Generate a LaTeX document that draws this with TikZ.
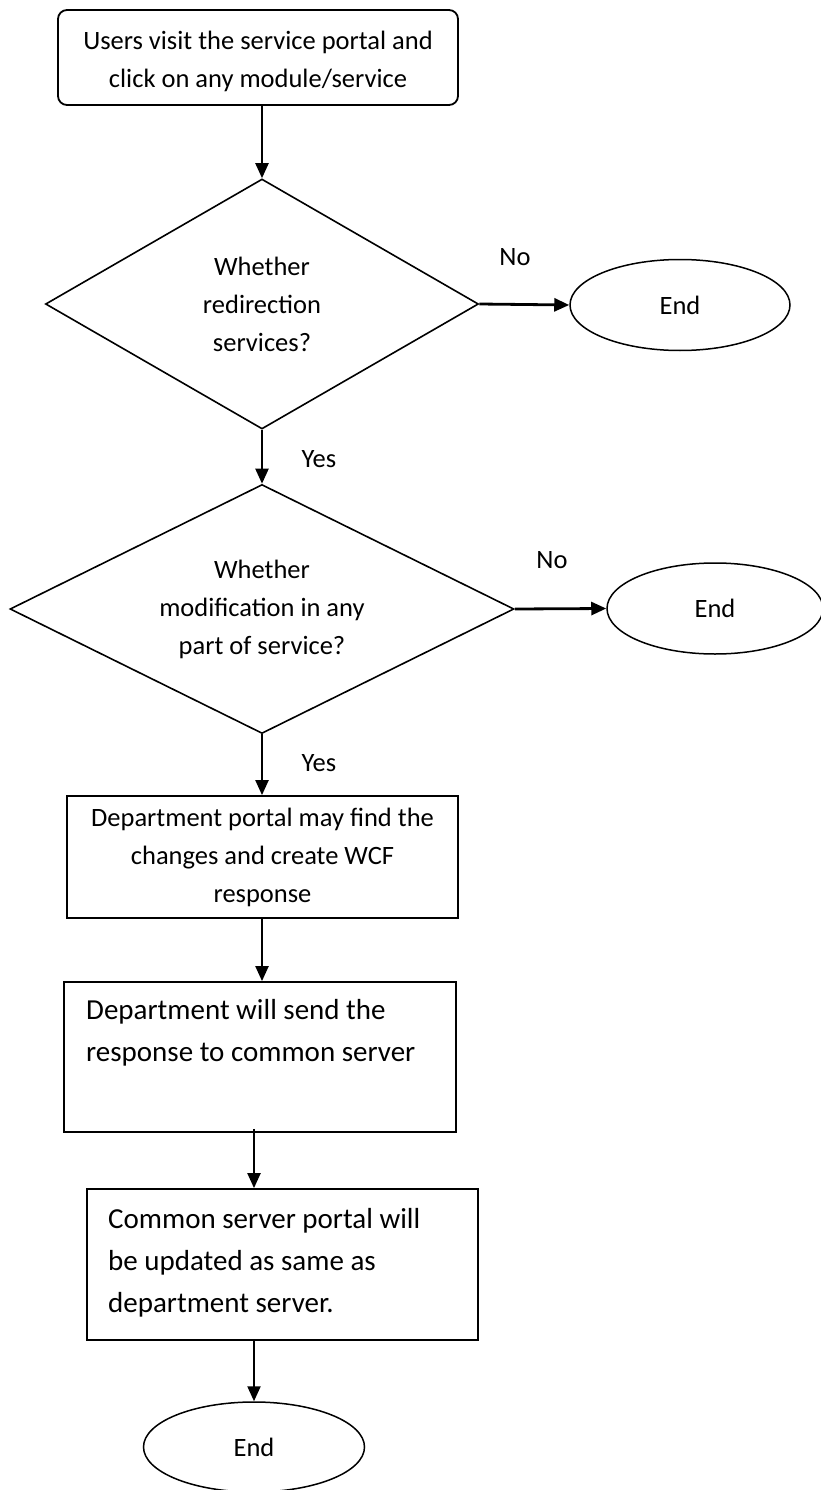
\documentclass[tikz,border=0pt]{standalone}
\usepackage{fontspec}
\setmainfont{Carlito}
\usetikzlibrary{shapes.geometric,arrows.meta,calc}

\begin{document}
\begin{tikzpicture}[x=1pt,y=-1pt,
  every node/.style={font=\fontsize{26.5}{38}\selectfont},
  bigtext/.style={font=\fontsize{29}{42}\selectfont},
  startbox/.style={draw,line width=1.8pt,rounded corners=9pt,align=center,inner sep=0pt},
  procbox/.style={draw,line width=1.8pt,inner sep=0pt},
  decision/.style={draw,diamond,line width=1.6pt,inner sep=0pt,align=center,shape aspect=1.75},
  terminal/.style={draw,ellipse,line width=1.5pt,inner sep=0pt},
  flow/.style={line width=2.2pt,-{Triangle[length=15pt,width=13pt]}},
  tag/.style={inner sep=0pt}]
\useasboundingbox (0,0) rectangle (821,1490);

% nodes of the flow
\node[startbox,minimum width=400pt,minimum height=95pt] (start) at (258,57.5) {};
\node[tag,align=center] (t0) at (258,61)
  {Users visit the service portal and\\click on any module/service};
\node[decision,minimum width=433pt,minimum height=250pt] (d1) at (262,304)
  {Whether\\redirection\\services?};
\node[terminal,minimum width=220pt,minimum height=91pt] (e1) at (680,305) {End};
\node[decision,minimum width=504pt,minimum height=249pt] (d2) at (262,609)
  {Whether\\modification in any\\part of service?};
\node[terminal,minimum width=216pt,minimum height=91pt] (e2) at (715,608.5) {End};
\node[procbox,minimum width=391pt,minimum height=122pt,align=center] (b3) at (262.5,857)
  {Department portal may find the\\changes and create WCF\\response};
\node[procbox,minimum width=392pt,minimum height=150pt] (b4) at (260,1057) {};
\node[bigtext,tag,anchor=north west,align=left] (t4) at (86,999)
  {Department will send the\\response to common server};
\node[procbox,minimum width=391pt,minimum height=151pt] (b5) at (282.5,1264.5) {};
\node[bigtext,tag,anchor=north west,align=left] (t5) at (108,1208)
  {Common server portal will\\be updated as same as\\department server.};
\node[terminal,minimum width=221pt,minimum height=90pt] (e3) at (254,1447) {End};

% branch labels
\node[tag] (no1) at (515,257) {No};
\node[tag] (yes1) at (319,459) {Yes};
\node[tag] (no2) at (552,560) {No};
\node[tag] (yes2) at (319,763) {Yes};

% connectors
\draw[flow] (start.south -| d1.north) -- (d1.north);
\draw[flow,line width=2.8pt] (d1.east) -- (e1.west);
\draw[flow] (d1.south) -- (d2.north);
\draw[flow,line width=2.8pt] (d2.east) -- (e2.west);
\draw[flow] (d2.south) -- (b3.north -| d2.south);
\draw[flow] (b3.south -| d2.south) -- (b4.north -| d2.south);
\draw[flow] ($(b4.south -| e3.north)+(0,-4)$) -- (b5.north -| e3.north);
\draw[flow] (b5.south -| e3.north) -- (e3.north);
\end{tikzpicture}
\end{document}
